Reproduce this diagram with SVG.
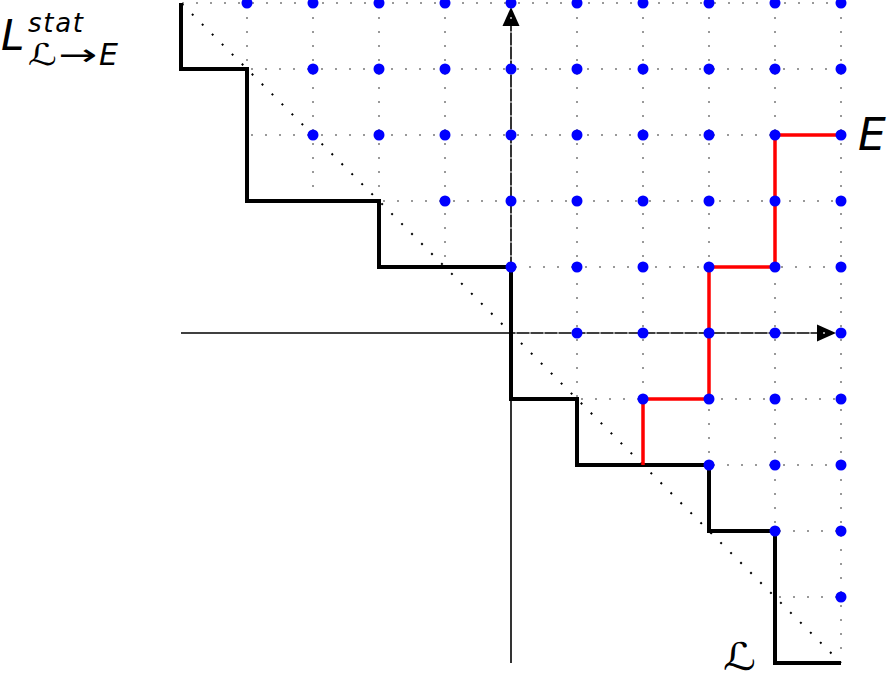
<svg xmlns="http://www.w3.org/2000/svg" width="893" height="681" viewBox="0 0 893 681">
<style>
.axis{stroke:#000;stroke-width:1.6;fill:none}
.grid{stroke:#999;stroke-width:2;stroke-dasharray:2 12;fill:none}
.diag{stroke:#000;stroke-width:2;stroke-dasharray:2 12.1;fill:none}
.stair{stroke:#000;stroke-width:4;fill:none;stroke-linejoin:miter}
.path{stroke:#ff0000;stroke-width:3.5;fill:none}
.pt{fill:#0000ff}
.lbl{font-family:"DejaVu Sans","Liberation Sans",sans-serif;font-style:italic;fill:#000}
.scr{font-family:"DejaVu Sans","DejaVu Serif",serif;fill:#000}
</style>
<rect width="893" height="681" fill="#fff"/>
<g id="axes">
<line class="axis" x1="181" y1="333" x2="820" y2="333"/>
<line class="axis" x1="511" y1="663" x2="511" y2="24"/>
<polygon points="836,333 817,324.5 817,341.5" fill="#000"/>
<polygon points="511,7 502.5,26 519.5,26" fill="#000"/>
</g>
<g id="grid">
<line class="grid" x1="182" y1="3" x2="841" y2="3"/>
<line class="grid" x1="251" y1="69" x2="841" y2="69"/>
<line class="grid" x1="251" y1="135" x2="841" y2="135"/>
<line class="grid" x1="383" y1="201" x2="841" y2="201"/>
<line class="grid" x1="515" y1="267" x2="841" y2="267"/>
<line class="grid" x1="515" y1="333" x2="841" y2="333"/>
<line class="grid" x1="581" y1="399" x2="841" y2="399"/>
<line class="grid" x1="713" y1="465" x2="841" y2="465"/>
<line class="grid" x1="779" y1="531" x2="841" y2="531"/>
<line class="grid" x1="779" y1="597" x2="841" y2="597"/>
<line class="grid" x1="247" y1="3" x2="247" y2="67"/>
<line class="grid" x1="313" y1="3" x2="313" y2="199"/>
<line class="grid" x1="379" y1="3" x2="379" y2="199"/>
<line class="grid" x1="445" y1="3" x2="445" y2="265"/>
<line class="grid" x1="511" y1="3" x2="511" y2="265"/>
<line class="grid" x1="577" y1="3" x2="577" y2="397"/>
<line class="grid" x1="643" y1="3" x2="643" y2="463"/>
<line class="grid" x1="709" y1="3" x2="709" y2="463"/>
<line class="grid" x1="775" y1="3" x2="775" y2="529"/>
<line class="grid" x1="841" y1="3" x2="841" y2="661"/>
</g>
<g id="diagonal">
<line class="diag" x1="182" y1="4" x2="841" y2="663"/>
</g>
<g id="staircase">
<polyline class="stair" points="181,3 181,69 247,69 247,201 379,201 379,267 511,267 511,399 577,399 577,465 709,465 709,531 775,531 775,663 841,663"/>
</g>
<g id="red-path">
<polyline class="path" points="643,465 643,399 709,399 709,267 775,267 775,135 841,135"/>
</g>
<g id="points">
<g id="row5"><circle class="pt" cx="247" cy="3" r="5.5"/><circle class="pt" cx="313" cy="3" r="5.5"/><circle class="pt" cx="379" cy="3" r="5.5"/><circle class="pt" cx="445" cy="3" r="5.5"/><circle class="pt" cx="511" cy="3" r="5.5"/><circle class="pt" cx="577" cy="3" r="5.5"/><circle class="pt" cx="643" cy="3" r="5.5"/><circle class="pt" cx="709" cy="3" r="5.5"/><circle class="pt" cx="775" cy="3" r="5.5"/><circle class="pt" cx="841" cy="3" r="5.5"/></g>
<g id="row4"><circle class="pt" cx="313" cy="69" r="5.5"/><circle class="pt" cx="379" cy="69" r="5.5"/><circle class="pt" cx="445" cy="69" r="5.5"/><circle class="pt" cx="511" cy="69" r="5.5"/><circle class="pt" cx="577" cy="69" r="5.5"/><circle class="pt" cx="643" cy="69" r="5.5"/><circle class="pt" cx="709" cy="69" r="5.5"/><circle class="pt" cx="775" cy="69" r="5.5"/><circle class="pt" cx="841" cy="69" r="5.5"/></g>
<g id="row3"><circle class="pt" cx="313" cy="135" r="5.5"/><circle class="pt" cx="379" cy="135" r="5.5"/><circle class="pt" cx="445" cy="135" r="5.5"/><circle class="pt" cx="511" cy="135" r="5.5"/><circle class="pt" cx="577" cy="135" r="5.5"/><circle class="pt" cx="643" cy="135" r="5.5"/><circle class="pt" cx="709" cy="135" r="5.5"/><circle class="pt" cx="775" cy="135" r="5.5"/><circle class="pt" cx="841" cy="135" r="5.5"/></g>
<g id="row2"><circle class="pt" cx="445" cy="201" r="5.5"/><circle class="pt" cx="511" cy="201" r="5.5"/><circle class="pt" cx="577" cy="201" r="5.5"/><circle class="pt" cx="643" cy="201" r="5.5"/><circle class="pt" cx="709" cy="201" r="5.5"/><circle class="pt" cx="775" cy="201" r="5.5"/><circle class="pt" cx="841" cy="201" r="5.5"/></g>
<g id="row1"><circle class="pt" cx="511" cy="267" r="5.5"/><circle class="pt" cx="577" cy="267" r="5.5"/><circle class="pt" cx="643" cy="267" r="5.5"/><circle class="pt" cx="709" cy="267" r="5.5"/><circle class="pt" cx="775" cy="267" r="5.5"/><circle class="pt" cx="841" cy="267" r="5.5"/></g>
<g id="row0"><circle class="pt" cx="577" cy="333" r="5.5"/><circle class="pt" cx="643" cy="333" r="5.5"/><circle class="pt" cx="709" cy="333" r="5.5"/><circle class="pt" cx="775" cy="333" r="5.5"/><circle class="pt" cx="841" cy="333" r="5.5"/></g>
<g id="rowm1"><circle class="pt" cx="643" cy="399" r="5.5"/><circle class="pt" cx="709" cy="399" r="5.5"/><circle class="pt" cx="775" cy="399" r="5.5"/><circle class="pt" cx="841" cy="399" r="5.5"/></g>
<g id="rowm2"><circle class="pt" cx="709" cy="465" r="5.5"/><circle class="pt" cx="775" cy="465" r="5.5"/><circle class="pt" cx="841" cy="465" r="5.5"/></g>
<g id="rowm3"><circle class="pt" cx="775" cy="531" r="5.5"/><circle class="pt" cx="841" cy="531" r="5.5"/></g>
<g id="rowm4"><circle class="pt" cx="841" cy="597" r="5.5"/></g>
</g>
<g id="labels">
<text class="lbl" x="1" y="50" font-size="42">L</text>
<text class="lbl" x="28" y="32" font-size="26" textLength="55">stat</text>
<text class="scr" x="28" y="65" font-size="30" textLength="29" lengthAdjust="spacingAndGlyphs">ℒ</text>
<text class="scr" x="58" y="65" font-size="30" textLength="39" lengthAdjust="spacingAndGlyphs">→</text>
<text class="lbl" x="99" y="65" font-size="30">E</text>
<text class="lbl" x="858" y="150" font-size="44">E</text>
<text class="scr" x="723" y="670" font-size="38" textLength="33" lengthAdjust="spacingAndGlyphs">ℒ</text>
</g>
</svg>
